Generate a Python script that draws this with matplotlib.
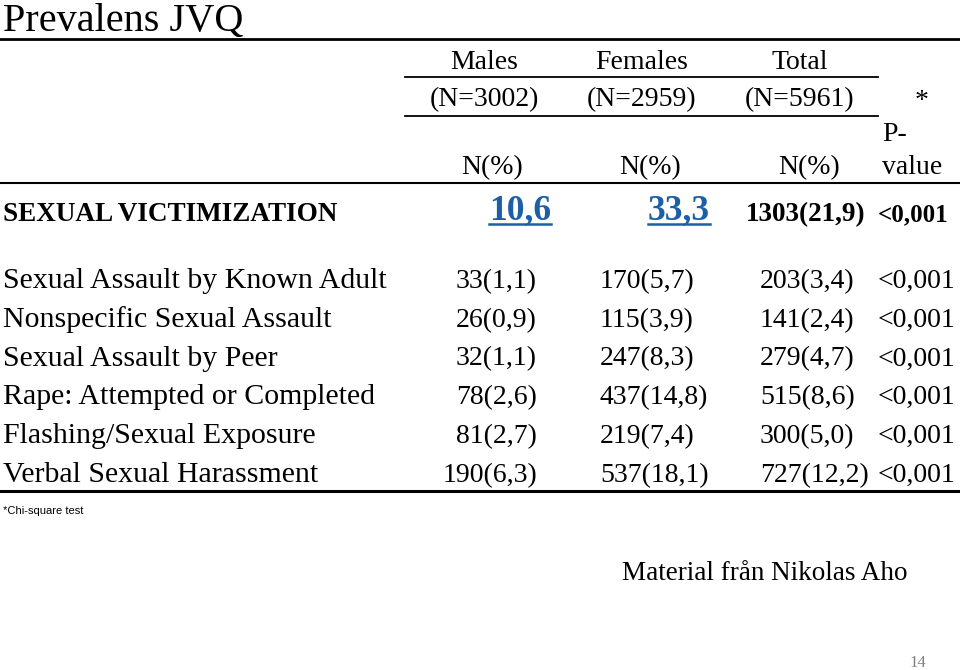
import matplotlib.pyplot as plt

title = "Prevalens JVQ"
groups = ["Males", "Females", "Total"]
group_n = ["(N=3002)", "(N=2959)", "(N=5961)"]
summary_label = "SEXUAL VICTIMIZATION"
summary_vals = ["10,6", "33,3", "1303(21,9)", "<0,001"]
row_labels = ["Sexual Assault by Known Adult", "Nonspecific Sexual Assault",
              "Sexual Assault by Peer", "Rape: Attempted or Completed",
              "Flashing/Sexual Exposure", "Verbal Sexual Harassment"]
males = ["33(1,1)", "26(0,9)", "32(1,1)", "78(2,6)", "81(2,7)", "190(6,3)"]
females = ["170(5,7)", "115(3,9)", "247(8,3)", "437(14,8)", "219(7,4)", "537(18,1)"]
total = ["203(3,4)", "141(2,4)", "279(4,7)", "515(8,6)", "300(5,0)", "727(12,2)"]
pvals = ["<0,001"] * 6
footnote = "*Chi-square test"
credit = "Material från Nikolas Aho"
page = "14"

serif = "Liberation Serif"
blue = "#1c5fa6"

fig = plt.figure(figsize=(9.6, 6.7), dpi=100)
ax = fig.add_axes([0, 0, 1, 1])
ax.set_xlim(0, 960)
ax.set_ylim(670, 0)
ax.axis("off")

fs = 20
ax.text(3, 31, title, fontsize=29, family=serif, va="baseline")
ax.plot([0, 960], [38.5, 38.5], color="black", lw=2)

gx = [484, 642, 800]
for x, g, n in zip(gx, groups, group_n):
    ax.text(x, 69, g, fontsize=fs, family=serif, ha="center", va="baseline")
    ax.text(x, 106, n, fontsize=fs, family=serif, ha="center", va="baseline")
ax.plot([405, 878], [77, 77], color="black", lw=1.3)
ax.plot([405, 878], [116, 116], color="black", lw=1.3)
ax.text(922, 108, "*", fontsize=fs, family=serif, ha="center", va="baseline")
ax.text(882, 141, "P-", fontsize=fs, family=serif, ha="left", va="baseline")
ax.text(882, 174, "value", fontsize=fs, family=serif, ha="left", va="baseline")
for x in [492, 650, 809]:
    ax.text(x, 174, "N(%)", fontsize=fs, family=serif, ha="center", va="baseline")
ax.plot([0, 960], [183, 183], color="black", lw=1.5)

ax.text(3, 221, summary_label, fontsize=19.5, family=serif, weight="bold",
        va="baseline")
big = []
for x, v in zip([551, 710], summary_vals[:2]):
    big.append(ax.text(x, 219, v, fontsize=25.5, family=serif, weight="bold",
                       color=blue, ha="right", va="baseline"))
ax.text(866, 221, summary_vals[2], fontsize=19.5, family=serif, weight="bold",
        ha="right", va="baseline")
ax.text(878, 221, summary_vals[3], fontsize=18, family=serif, weight="bold",
        ha="left", va="baseline")

y0, dy = 288, 38.8
for i, lab in enumerate(row_labels):
    y = y0 + i * dy
    ax.text(3, y, lab, fontsize=21.5, family=serif, va="baseline")
    ax.text(537, y, males[i], fontsize=fs, family=serif, ha="right", va="baseline")
    ax.text(600, y, females[i], fontsize=fs, family=serif, ha="left", va="baseline")
    ax.text(760, y, total[i], fontsize=fs, family=serif, ha="left", va="baseline")
    ax.text(878, y, pvals[i], fontsize=fs, family=serif, ha="left", va="baseline")
ax.plot([0, 960], [491, 491], color="black", lw=2.2)

ax.text(3, 511, footnote, fontsize=8,
        family=["Liberation Sans Narrow", "Liberation Sans"], va="center")
ax.text(622, 580, credit, fontsize=19.5, family=serif, va="baseline")
ax.text(918, 663, page, fontsize=12, family=serif, color="#7f7f7f",
        ha="center", va="center")

# underline the two blue numbers
fig.canvas.draw()
inv = ax.transData.inverted()
for t in big:
    bb = t.get_window_extent()
    (x1, ya), (x2, yb) = inv.transform([[bb.x0, bb.y0], [bb.x1, bb.y1]])
    ax.plot([x1, x2], [223.5, 223.5], color=blue, lw=1.8)

fig.savefig("out.png", dpi=100)
